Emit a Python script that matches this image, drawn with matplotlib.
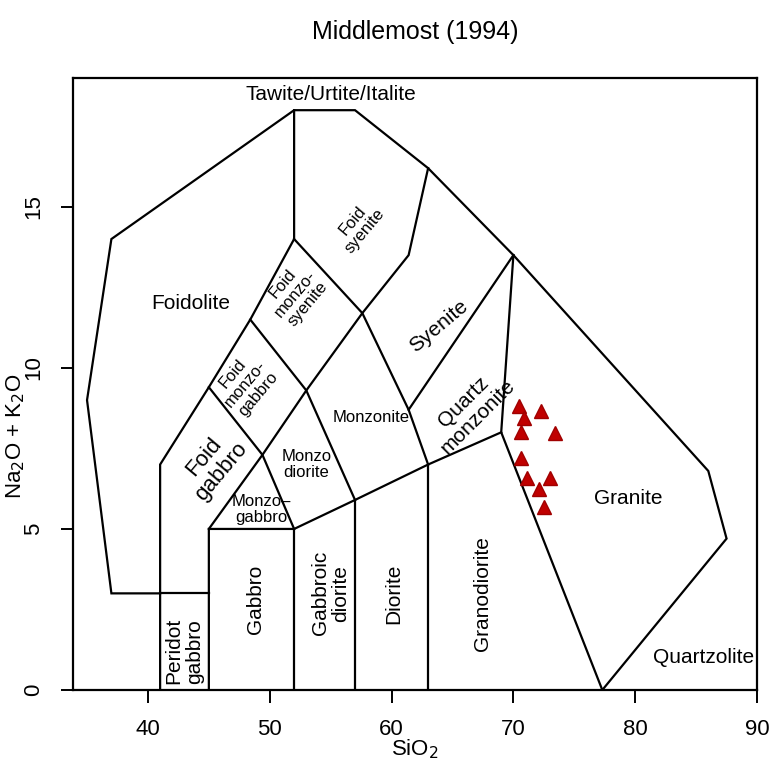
import matplotlib.pyplot as plt

plt.rcParams['font.family'] = ['Liberation Sans', 'DejaVu Sans']

# field boundaries (SiO2, Na2O+K2O), Middlemost 1994 plutonic TAS
boundaries = [
    [(41, 3), (37, 3), (35, 9), (37, 14), (52, 18), (57, 18), (63, 16.2),
     (70, 13.5), (86, 6.8), (87.5, 4.7), (77.3, 0)],
    [(41, 0), (41, 7), (45, 9.4), (48.4, 11.5), (52, 14), (52, 18)],
    [(41, 3), (45, 3)],
    [(45, 0), (45, 5), (52, 5), (57, 5.9), (63, 7), (69, 8)],
    [(52, 0), (52, 5)],
    [(57, 0), (57, 5.9)],
    [(63, 0), (63, 7)],
    [(77.3, 0), (69, 8), (70, 13.5)],
    [(45, 9.4), (49.4, 7.3), (52, 5)],
    [(45, 5), (49.4, 7.3), (53, 9.3), (57.6, 11.7), (61.4, 13.5), (63, 16.2)],
    [(48.4, 11.5), (53, 9.3), (57, 5.9)],
    [(52, 14), (57.6, 11.7), (61.4, 8.7), (63, 7)],
    [(61.4, 8.7), (70, 13.5)],
]

# field names: (text, x, y, rotation, size)
fields = [
    ("Tawite/Urtite/Italite", 55.0, 18.5, 0, 15),
    ("Foid\nsyenite", 57.3, 14.4, 50, 12),
    ("Foidolite", 43.5, 12.0, 0, 15),
    ("Foid\nmonzo-\nsyenite", 52.1, 12.3, 50, 12),
    ("Syenite", 63.9, 11.3, 40, 15),
    ("Foid\nmonzo-\ngabbro", 48.0, 9.5, 50, 12),
    ("Foid\ngabbro", 45.3, 7.0, 50, 16),
    ("Monzo\u2013\ngabbro", 49.3, 5.6, 0, 12),
    ("Monzo\ndiorite", 53.0, 7.0, 0, 12),
    ("Monzonite", 58.3, 8.45, 0, 12),
    ("Quartz\nmonzonite", 66.5, 8.7, 45, 15),
    ("Granite", 79.4, 5.95, 0, 15),
    ("Quartzolite", 85.6, 1.0, 0, 15),
    ("Peridot\ngabbro", 43.0, 1.2, 90, 15),
    ("Gabbro", 48.8, 2.8, 90, 15),
    ("Gabbroic\ndiorite", 55.0, 3.0, 90, 15),
    ("Diorite", 60.2, 3.0, 90, 15),
    ("Granodiorite", 67.5, 3.0, 90, 15),
]

# samples
sio2 = [70.5, 72.3, 70.9, 70.6, 73.4, 70.6, 71.1, 73.0, 72.1, 72.5]
alk = [8.82, 8.67, 8.44, 8.02, 7.97, 7.19, 6.57, 6.59, 6.23, 5.67]

fig = plt.figure(figsize=(7.81, 7.6), dpi=100)
ax = fig.add_axes([0.0935, 0.0921, 0.8758, 0.8053])

for b in boundaries:
    xs, ys = zip(*b)
    ax.plot(xs, ys, color='black', lw=1.6, solid_joinstyle='miter')

for txt, x, y, rot, size in fields:
    ax.text(x, y, txt, rotation=rot, fontsize=size, ha='center', va='center',
            multialignment='center', linespacing=1.1)

ax.plot(sio2, alk, '^', color='#c00000', markeredgecolor='#a00000', ms=10)

ax.set_xlim(33.85, 90)
ax.set_ylim(0, 19)
ax.set_xticks([40, 50, 60, 70, 80, 90])
ax.set_yticks([0, 5, 10, 15])
ax.tick_params(labelsize=16, length=9, width=1.4, pad=12)
for lab in ax.get_yticklabels():
    lab.set_rotation(90)
    lab.set_va('center')
for s in ax.spines.values():
    s.set_linewidth(1.6)

ax.set_xlabel('SiO$_2$', fontsize=16, labelpad=-2)
ax.set_ylabel('Na$_2$O + K$_2$O', fontsize=16)
ax.yaxis.set_label_coords(-0.068, 0.415)
ax.set_title('Middlemost (1994)', fontsize=18, pad=28)

plt.savefig('out.png', dpi=100)
